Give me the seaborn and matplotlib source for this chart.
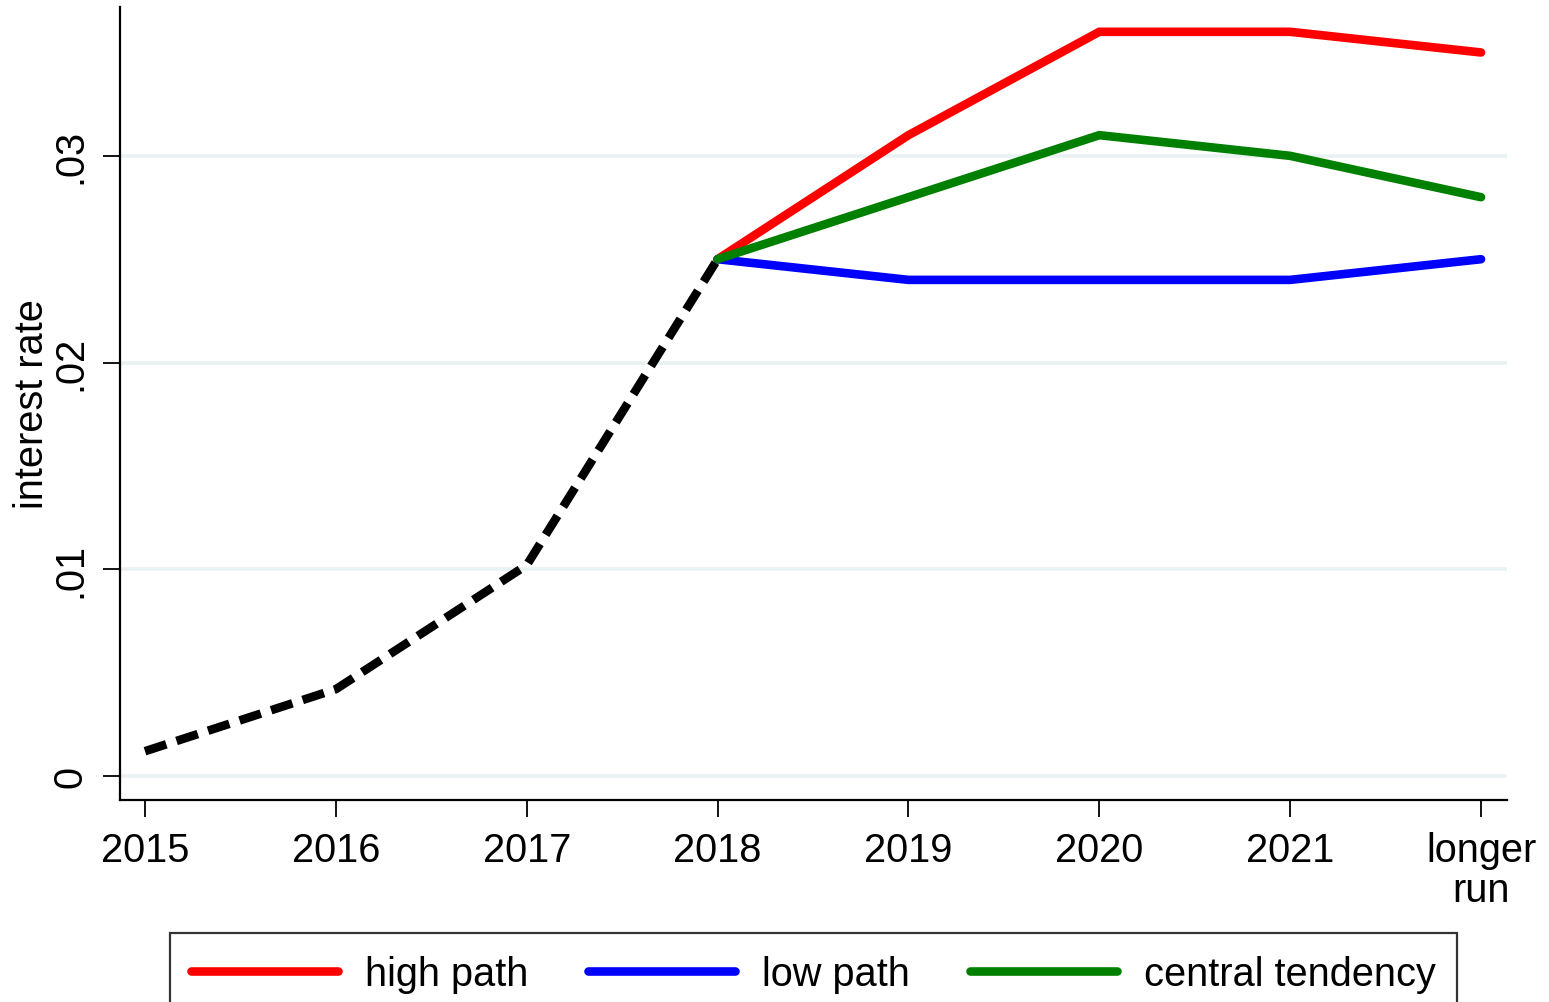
import matplotlib
matplotlib.use("Agg")
import matplotlib.pyplot as plt
import seaborn as sns
import pandas as pd
from matplotlib.lines import Line2D

# Data
categories = ["2015", "2016", "2017", "2018", "2019", "2020", "2021", "longer\nrun"]
hist_idx = [0, 1, 2, 3]
hist_vals = [0.0012, 0.0042, 0.0102, 0.025]
proj_idx = [3, 4, 5, 6, 7]
high_path = [0.025, 0.031, 0.036, 0.036, 0.035]
low_path = [0.025, 0.024, 0.024, 0.024, 0.025]
central_tendency = [0.025, 0.028, 0.031, 0.030, 0.028]
series_names = ["high path", "low path", "central tendency"]
series_colors = ["#FF0000", "#0000FF", "#008000"]
y_ticks = [0, 0.01, 0.02, 0.03]
y_ticklabels = ["0", ".01", ".02", ".03"]

sns.set_theme(style="white")
plt.rcParams["font.family"] = ["Liberation Sans", "DejaVu Sans"]
plt.rcParams["text.color"] = "black"
plt.rcParams["axes.labelcolor"] = "black"

W, H = 1549, 1003
fig = plt.figure(figsize=(W / 100, H / 100), dpi=100)
ax = fig.add_axes([120 / W, 1 - 801 / H, (1507 - 120) / W, (801 - 8) / H])

proj = pd.DataFrame({
    "x": proj_idx * 3,
    "rate": high_path + low_path + central_tendency,
    "series": [series_names[0]] * 5 + [series_names[1]] * 5 + [series_names[2]] * 5,
})
hist = pd.DataFrame({"x": hist_idx, "rate": hist_vals})

lw = 6.2
sns.lineplot(data=hist, x="x", y="rate", ax=ax, color="black", lw=lw,
             linestyle=(0, (2.6, 1.25)), dash_capstyle="butt", legend=False)
sns.lineplot(data=proj, x="x", y="rate", hue="series", hue_order=series_names,
             palette=series_colors, ax=ax, lw=lw, legend=False)
for line in ax.lines[1:]:
    line.set_solid_capstyle("round")
    line.set_solid_joinstyle("miter")

ax.set_xlim(-0.131, 7.136)
ax.set_ylim(-0.00116, 0.0372)
ax.set_xticks(range(len(categories)))
ax.set_xticklabels(categories, fontsize=28.6, linespacing=1.08)
ax.set_yticks(y_ticks)
ax.set_yticklabels(y_ticklabels, fontsize=28.6, rotation=90, va="center")
ax.yaxis.grid(True, color="#EAF1F2", lw=2.6)
ax.set_axisbelow(True)
ax.xaxis.grid(False)

ax.set_xlabel("")
ax.set_ylabel("interest rate", fontsize=28.6, labelpad=0, color="black")

for s in ["top", "right"]:
    ax.spines[s].set_visible(False)
for s in ["left", "bottom"]:
    ax.spines[s].set_color("black")
    ax.spines[s].set_linewidth(1.6)
ax.tick_params(axis="both", which="major", length=12, width=1.3, color="black",
               direction="out", pad=10, left=True, bottom=True, labelcolor="black")

handles = [Line2D([], [], color=c, lw=lw) for c in series_colors]
leg = fig.legend(handles, series_names, loc="upper center",
                 bbox_to_anchor=(813.5 / W, 1 - 934 / H), ncol=3,
                 fontsize=28.6, frameon=True, fancybox=False,
                 handlelength=3.7, handletextpad=0.68, columnspacing=1.5,
                 borderpad=0.55, borderaxespad=0, labelcolor="black")
leg.get_frame().set_edgecolor("black")
leg.get_frame().set_linewidth(1.6)

fig.savefig("out.png", dpi=100)
